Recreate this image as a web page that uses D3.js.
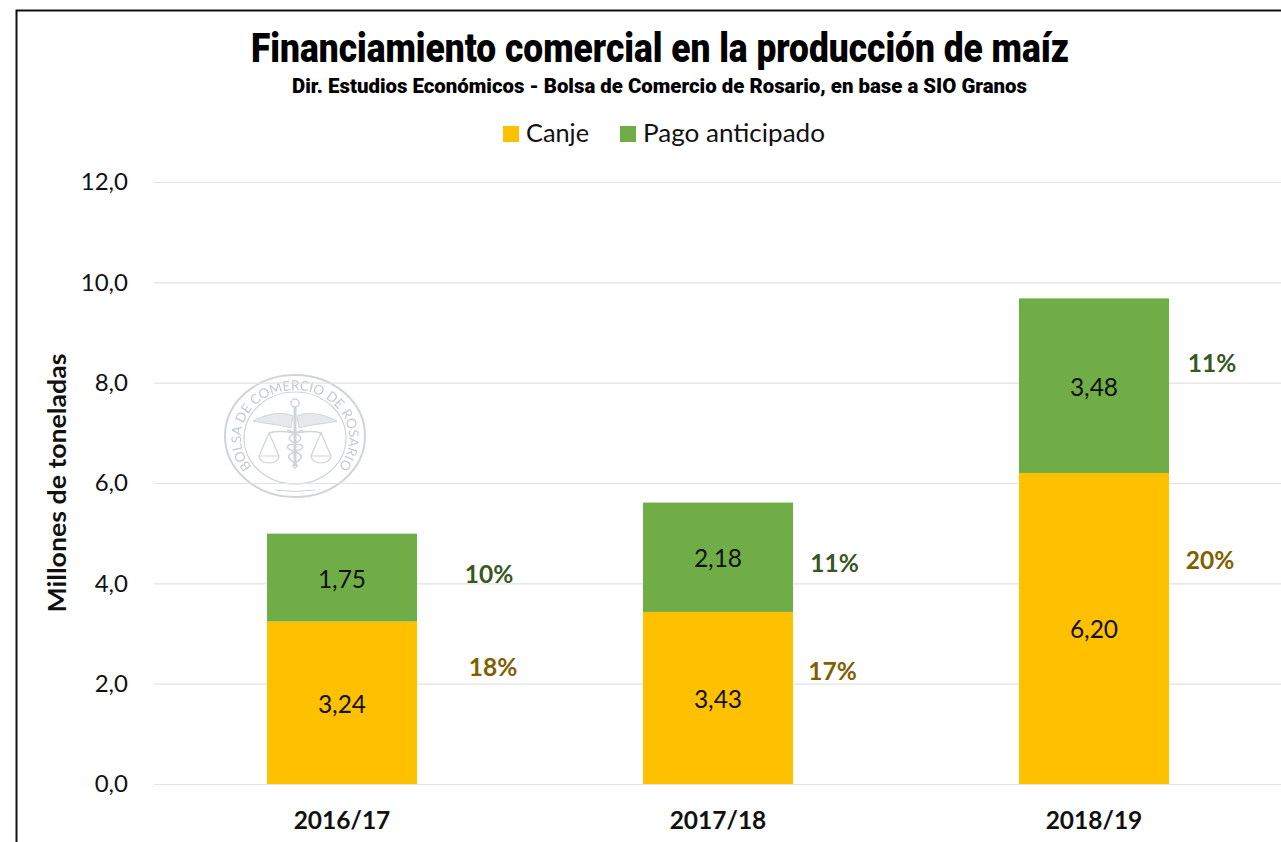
<!DOCTYPE html>
<html>
<head>
<meta charset="utf-8">
<script src="https://cdn.jsdelivr.net/npm/d3@7"></script>
<style>
  html, body { margin: 0; background: #fff; overflow: hidden; }
  svg { display: block; }
  text { font-family: Lato, sans-serif; fill: #111; }
</style>
</head>
<body>
<svg id="chart" width="1281" height="842"></svg>
<script>
const seasons = ['2016/17', '2017/18', '2018/19']
const canje = [3.24, 3.43, 6.2]
const pagoAnticipado = [1.75, 2.18, 3.48]
const canjePct = ['18%', '17%', '20%']
const pagoPct = ['10%', '11%', '11%']
const yTicks = [0, 2, 4, 6, 8, 10, 12]
const seriesNames = ['Canje', 'Pago anticipado']

const colors = { canje: '#ffc000', pago: '#70ad47', canjePct: '#7f6000', pagoPct: '#385723' }
const margin = { top: 182, right: 0, bottom: 58, left: 154 }
const width = 1282 - margin.left
const height = 842 - margin.top - margin.bottom

// percent labels were placed by hand in the original: offset from the middle of their segment
const canjePctNudge = [[151, -27], [114.5, -18], [116, -59]]
const pagoPctNudge = [[147, 5.5], [116.5, 15], [118, -14]]

const num = (v, digits) => v.toFixed(digits).replace('.', ',')

const svgElement = d3.select('#chart')

const blur = svgElement.append('defs').append('filter').attr('id', 'soft')
blur.append('feGaussianBlur').attr('stdDeviation', 0.45)

svgElement
  .append('path')
  .attr('d', 'M16.5,842V10.5H1281')
  .attr('fill', 'none')
  .attr('stroke', '#111')
  .attr('stroke-width', 2)

svgElement
  .append('text')
  .attr('x', 660)
  .attr('y', 62)
  .attr('text-anchor', 'middle')
  .attr('textLength', 818)
  .attr('lengthAdjust', 'spacingAndGlyphs')
  .style('font-family', 'Roboto')
  .style('font-weight', 900)
  .style('font-size', '40px')
  .style('fill', '#000')
  .text('Financiamiento comercial en la producción de maíz')

svgElement
  .append('text')
  .attr('x', 659.5)
  .attr('y', 93)
  .attr('text-anchor', 'middle')
  .attr('textLength', 735)
  .attr('lengthAdjust', 'spacingAndGlyphs')
  .style('font-family', 'Roboto')
  .style('font-weight', 900)
  .style('font-size', '21px')
  .style('fill', '#000')
  .text('Dir. Estudios Económicos - Bolsa de Comercio de Rosario, en base a SIO Granos')

// legend
const legendX = [503, 620]
const legendTextLength = [63, 182]
const legendColors = [colors.canje, colors.pago]
seriesNames.forEach((name, i) => {
  svgElement
    .append('rect')
    .attr('x', legendX[i])
    .attr('y', 126)
    .attr('width', 16)
    .attr('height', 16)
    .attr('fill', legendColors[i])
  svgElement
    .append('text')
    .attr('x', legendX[i] + 23)
    .attr('y', 142)
    .attr('textLength', legendTextLength[i])
    .attr('lengthAdjust', 'spacingAndGlyphs')
    .style('font-size', '25px')
    .text(name)
})

// watermark
const logo = svgElement
  .append('g')
  .attr('transform', 'translate(295, 436)')
  .attr('fill', 'none')
  .attr('stroke', '#cfd4d9')
  .attr('filter', 'url(#soft)')

logo.append('ellipse').attr('rx', 70).attr('ry', 61).attr('stroke-width', 2)
logo.append('ellipse').attr('rx', 51).attr('cy', 2).attr('ry', 46).attr('stroke-width', 1.2)
logo.append('path').attr('d', 'M0,-30V30').attr('stroke-width', 3)
logo.append('circle').attr('cy', -33).attr('r', 4).attr('stroke-width', 1.5)
logo.append('path').attr('d', 'M-42,-15C-25,-24 -10,-24 -2,-20L-4,-8C-16,-12 -30,-12 -42,-15Z').attr('fill', '#e6e9ec').attr('stroke-width', 1)
logo.append('path').attr('d', 'M42,-15C25,-24 10,-24 2,-20L4,-8C16,-12 30,-12 42,-15Z').attr('fill', '#e6e9ec').attr('stroke-width', 1)
logo.append('path').attr('d', 'M-8,-6C10,0 10,5 -6,9C-14,14 10,16 6,22C2,28 -6,28 0,32M8,-6C-10,0 -10,5 6,9C14,14 -10,16 -6,22C-2,28 6,28 0,32').attr('stroke-width', 1.6)
logo.append('path').attr('d', 'M-26,-3C-15,-6 -8,-4 0,-3C8,-4 15,-6 26,-3').attr('stroke-width', 1.5)
logo.append('path').attr('d', 'M-26,-3L-36,20H-16ZM-36,20A10,7 0 0 0 -16,20M26,-3L16,20H36ZM16,20A10,7 0 0 0 36,20').attr('stroke-width', 1.2)
logo.append('path').attr('d', 'M-20,54A30,5 0 0 0 20,54').attr('stroke-width', 1)
logo.append('path').attr('id', 'logoArc').attr('d', 'M-30,42A54,48 0 1 1 30,42').attr('stroke', 'none')
logo
  .append('text')
  .style('font-size', '13.5px')
  .style('fill', '#c4cad0')
  .attr('stroke', 'none')
  .append('textPath')
  .attr('href', '#logoArc')
  .attr('startOffset', '50%')
  .attr('text-anchor', 'middle')
  .text('BOLSA DE COMERCIO DE ROSARIO')

const xScale = d3.scaleBand().domain(seasons).range([0, width]).paddingInner(0).paddingOuter(0)
const yScale = d3.scaleLinear().domain([0, 12]).range([height, 0])
const barWidth = 150
const barX = (d) => xScale(d) + (xScale.bandwidth() - barWidth) / 2

const svg = svgElement
  .append('g')
  .attr('transform', `translate(${margin.left}, ${margin.top})`)

const yAxis = svg
  .append('g')
  .attr('class', 'yaxis')
  .call(
    d3.axisLeft(yScale)
      .tickValues(yTicks)
      .tickSize(-width)
      .tickPadding(26)
      .tickFormat((d) => num(d, 1))
  )
yAxis.select('.domain').remove()
yAxis.selectAll('.tick line').attr('stroke', '#e2e2e2').attr('stroke-width', 1.2)
yAxis.selectAll('.tick text').style('font-size', '24px').style('font-family', 'Lato').attr('fill', '#111')

const xAxis = svg
  .append('g')
  .attr('class', 'xaxis')
  .attr('transform', `translate(0, ${height})`)
  .call(d3.axisBottom(xScale).tickSize(0).tickPadding(28))
xAxis.select('.domain').remove()
xAxis.selectAll('.tick text')
  .style('font-size', '24.5px')
  .style('font-weight', 700)
  .style('font-family', 'Lato')
  .attr('fill', '#111')

svg
  .selectAll('.bar-canje')
  .data(seasons)
  .enter()
  .append('rect')
  .attr('class', 'bar-canje')
  .attr('x', barX)
  .attr('y', (d, i) => yScale(canje[i]))
  .attr('width', barWidth)
  .attr('height', (d, i) => height - yScale(canje[i]))
  .attr('fill', colors.canje)

svg
  .selectAll('.bar-pago')
  .data(seasons)
  .enter()
  .append('rect')
  .attr('class', 'bar-pago')
  .attr('x', barX)
  .attr('y', (d, i) => yScale(canje[i] + pagoAnticipado[i]))
  .attr('width', barWidth)
  .attr('height', (d, i) => yScale(canje[i]) - yScale(canje[i] + pagoAnticipado[i]))
  .attr('fill', colors.pago)

const barCenter = (d) => xScale(d) + xScale.bandwidth() / 2
const canjeMid = (i) => yScale(canje[i] / 2)
const pagoMid = (i) => yScale(canje[i] + pagoAnticipado[i] / 2)

svg
  .selectAll('.val-canje')
  .data(seasons)
  .enter()
  .append('text')
  .attr('class', 'val-canje')
  .attr('x', barCenter)
  .attr('y', (d, i) => canjeMid(i) + 10)
  .attr('text-anchor', 'middle')
  .style('font-size', '24.5px')
  .text((d, i) => num(canje[i], 2))

svg
  .selectAll('.val-pago')
  .data(seasons)
  .enter()
  .append('text')
  .attr('class', 'val-pago')
  .attr('x', barCenter)
  .attr('y', (d, i) => pagoMid(i) + 10)
  .attr('text-anchor', 'middle')
  .style('font-size', '24.5px')
  .text((d, i) => num(pagoAnticipado[i], 2))

svg
  .selectAll('.pct-canje')
  .data(seasons)
  .enter()
  .append('text')
  .attr('class', 'pct-canje')
  .attr('x', (d, i) => barCenter(d) + canjePctNudge[i][0])
  .attr('y', (d, i) => canjeMid(i) + canjePctNudge[i][1])
  .attr('text-anchor', 'middle')
  .style('font-size', '24.5px')
  .style('font-weight', 700)
  .style('fill', colors.canjePct)
  .text((d, i) => canjePct[i])

svg
  .selectAll('.pct-pago')
  .data(seasons)
  .enter()
  .append('text')
  .attr('class', 'pct-pago')
  .attr('x', (d, i) => barCenter(d) + pagoPctNudge[i][0])
  .attr('y', (d, i) => pagoMid(i) + pagoPctNudge[i][1])
  .attr('text-anchor', 'middle')
  .style('font-size', '24.5px')
  .style('font-weight', 700)
  .style('fill', colors.pagoPct)
  .text((d, i) => pagoPct[i])

svg
  .append('text')
  .attr('transform', `translate(${66 - margin.left}, ${483 - margin.top}) rotate(-90)`)
  .attr('text-anchor', 'middle')
  .attr('textLength', 259)
  .attr('lengthAdjust', 'spacingAndGlyphs')
  .style('font-size', '24px')
  .style('font-weight', 700)
  .text('Millones de toneladas')
</script>
</body>
</html>
